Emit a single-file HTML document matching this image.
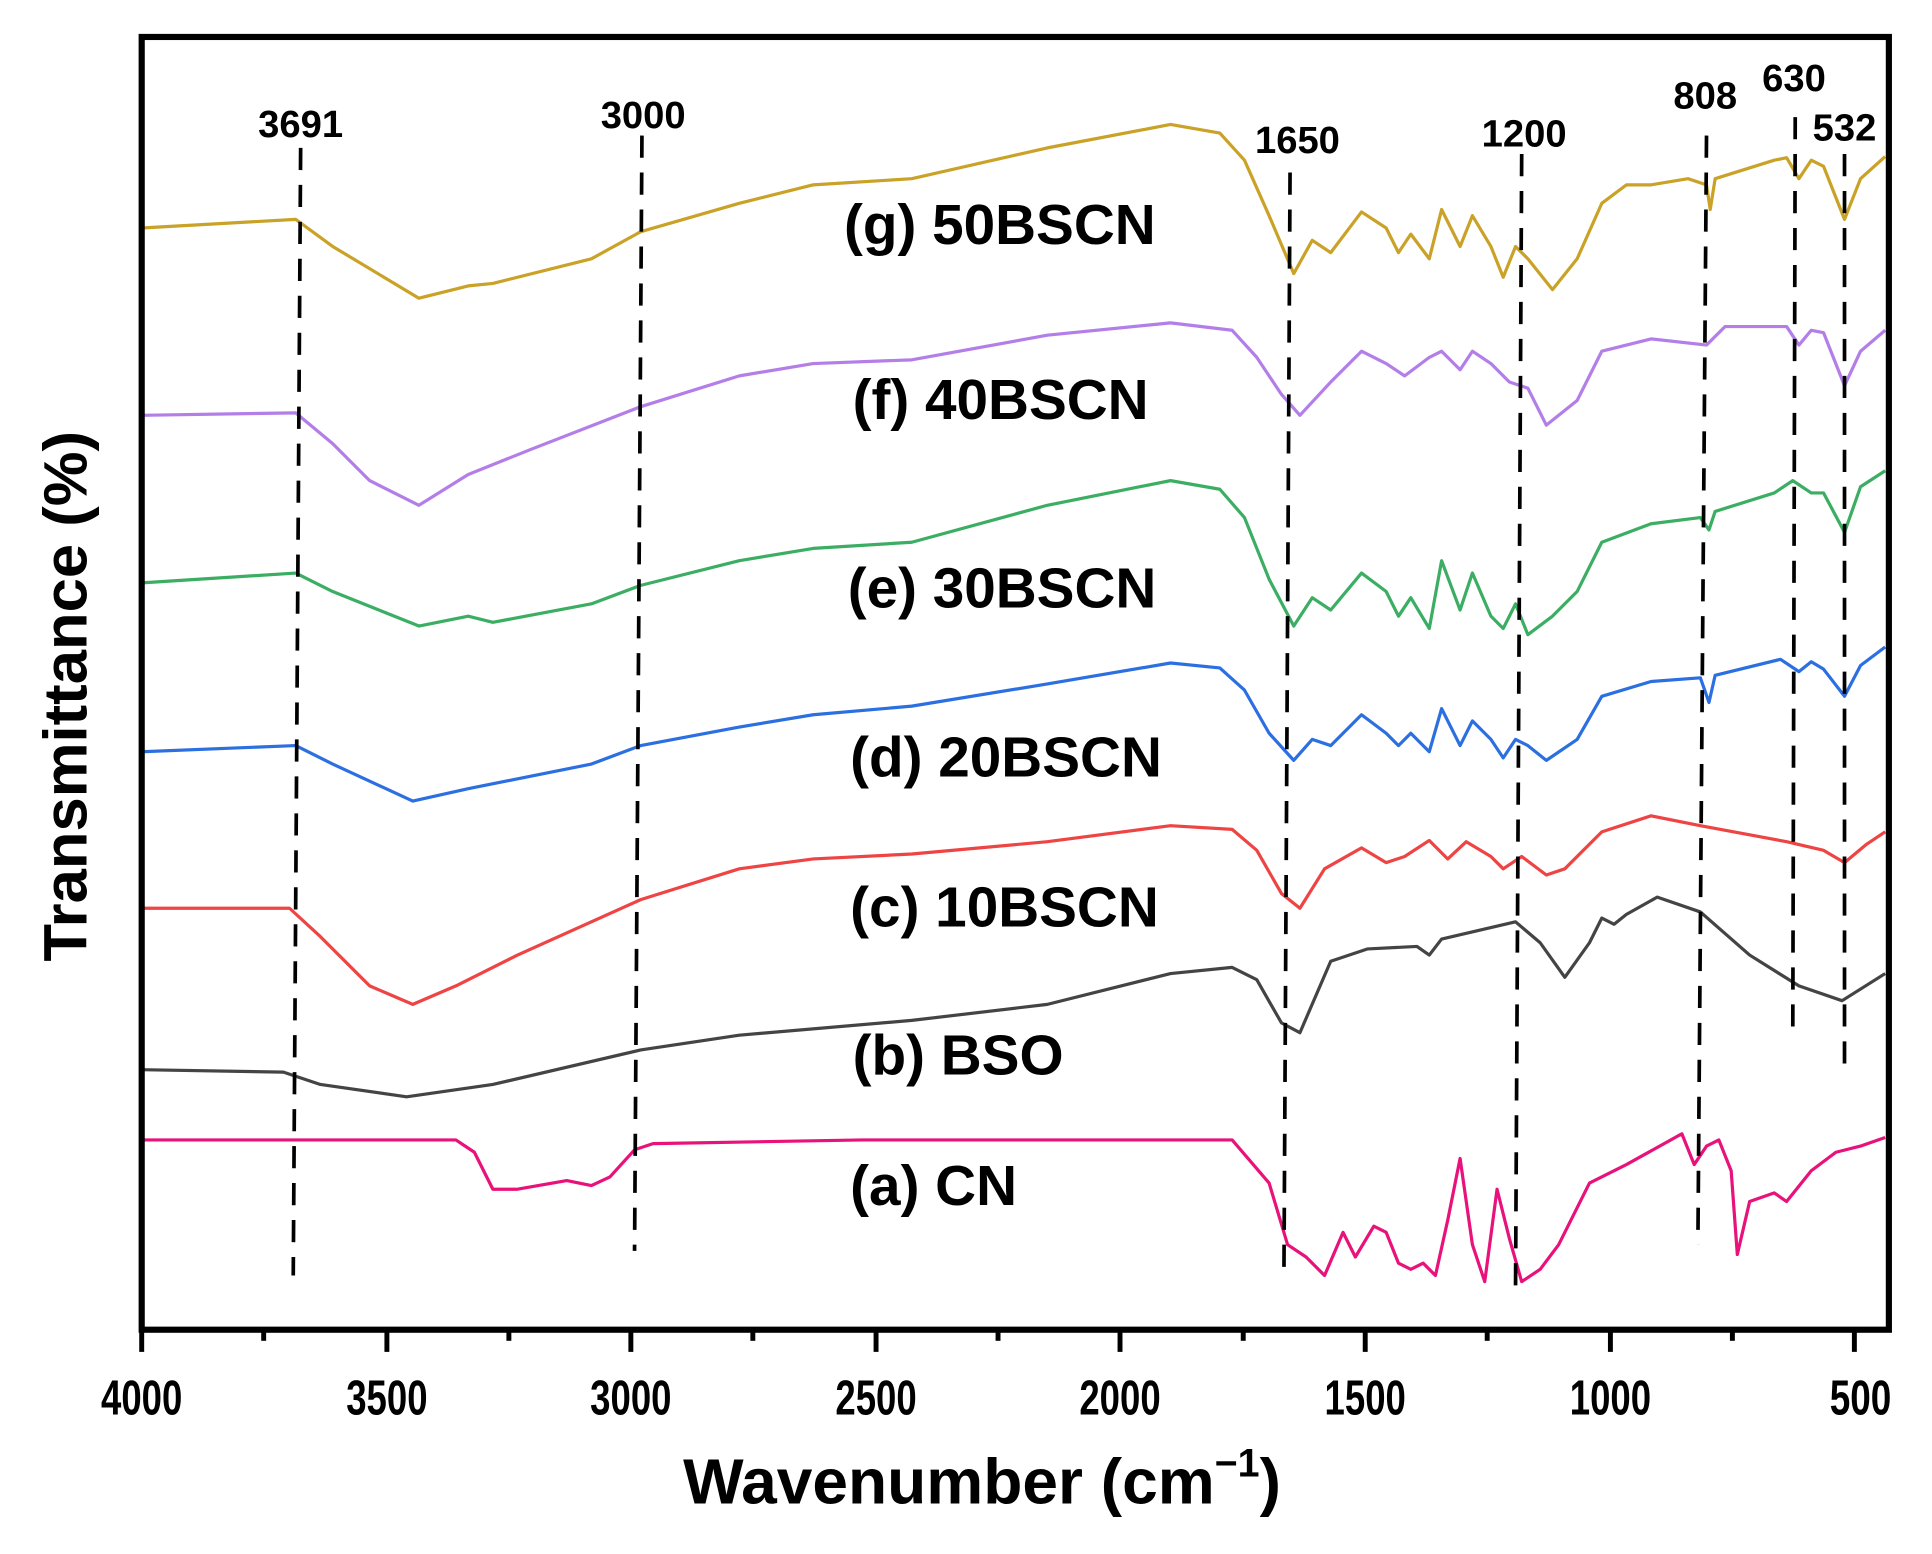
<!DOCTYPE html>
<html><head><meta charset="utf-8"><style>html,body{margin:0;padding:0;background:#fff}svg{display:block}</style></head>
<body>
<svg width="1932" height="1554" viewBox="0 0 1568 1261" preserveAspectRatio="none" xmlns="http://www.w3.org/2000/svg" font-family="'Liberation Sans Narrow','Liberation Sans',sans-serif" font-weight="bold">
<rect x="0" y="0" width="1568" height="1261" fill="#fff"/>
<g fill="none" stroke-width="2.6" stroke-linejoin="round">
<polyline stroke="#c9a227" points="115,185 240,178 270,200 340,242 380,232 400,230 480,210 520,188 600,165 660,150 740,145 850,120 950,101 990,108 1010,130 1030,175 1050,222 1065,195 1080,205 1105,172 1125,185 1135,205 1145,190 1160,210 1170,170 1185,200 1195,175 1210,200 1220,225 1230,200 1240,210 1260,235 1280,210 1300,165 1320,150 1340,150 1370,145 1385,150 1388,170 1392,145 1440,130 1450,128 1460,145 1470,130 1480,135 1497,178 1510,145 1530,127"/>
<polyline stroke="#b37ee8" points="115,337 240,335 270,360 300,390 340,410 380,385 430,365 520,330 600,305 660,295 740,292 850,272 950,262 1000,268 1020,290 1040,320 1055,337 1080,310 1105,285 1125,295 1140,305 1160,290 1170,285 1185,300 1195,285 1210,295 1225,310 1240,315 1255,345 1280,325 1300,285 1320,280 1340,275 1385,280 1400,265 1450,265 1460,280 1470,268 1480,270 1497,313 1510,285 1530,268"/>
<polyline stroke="#3cae63" points="115,473 240,465 270,480 340,508 380,500 400,505 480,490 520,475 600,455 660,445 740,440 850,410 950,390 990,397 1010,420 1030,470 1050,508 1065,485 1080,495 1105,465 1125,480 1135,500 1145,485 1160,510 1170,455 1185,495 1195,465 1210,500 1220,510 1230,490 1240,515 1260,500 1280,480 1300,440 1340,425 1380,420 1387,430 1392,415 1440,400 1455,390 1470,400 1480,400 1497,432 1510,395 1530,382"/>
<polyline stroke="#2b6fe0" points="115,610 240,605 270,620 335,650 380,640 480,620 520,605 600,590 660,580 740,573 850,555 950,538 990,542 1010,560 1030,595 1050,617 1065,600 1080,605 1105,580 1125,595 1135,605 1145,595 1160,610 1170,575 1185,605 1195,585 1210,600 1220,615 1230,600 1240,605 1255,617 1280,600 1300,565 1340,553 1380,550 1387,570 1392,548 1445,535 1460,545 1470,537 1480,543 1497,565 1510,540 1530,525"/>
<polyline stroke="#ee4444" points="115,737 235,737 260,760 300,800 335,815 370,800 420,775 520,730 600,705 660,697 740,693 850,683 950,670 1000,673 1020,690 1040,725 1055,737 1075,705 1105,688 1125,700 1140,695 1160,682 1175,697 1190,683 1210,695 1220,705 1235,695 1255,710 1270,705 1300,675 1340,662 1380,670 1450,683 1480,690 1497,700 1515,685 1530,675"/>
<polyline stroke="#444" points="115,868 230,870 260,880 330,890 400,880 520,852 600,840 740,828 850,815 950,790 1000,785 1020,795 1040,830 1055,838 1080,780 1110,770 1150,768 1160,775 1170,762 1230,748 1250,765 1270,793 1290,765 1300,745 1310,750 1320,742 1345,728 1380,740 1420,775 1460,800 1495,812 1530,790"/>
<polyline stroke="#e8127a" points="115,925 370,925 385,935 400,965 420,965 460,958 480,962 495,955 515,933 530,928 700,925 1000,925 1030,960 1045,1010 1060,1020 1075,1035 1090,1000 1100,1020 1115,995 1125,1000 1135,1025 1145,1030 1155,1025 1165,1035 1175,990 1185,940 1195,1010 1205,1040 1215,965 1225,1005 1235,1040 1250,1030 1265,1010 1290,960 1320,945 1365,920 1375,945 1385,930 1395,925 1405,950 1410,1018 1420,975 1440,968 1450,975 1470,950 1490,935 1510,930 1530,923"/>
</g>
<g stroke="#000" stroke-width="3" stroke-dasharray="18,12" fill="none">
<line x1="244" y1="120" x2="238" y2="1035"/>
<line x1="521" y1="110" x2="515" y2="1015"/>
<line x1="1047" y1="140" x2="1042" y2="1040"/>
<line x1="1235" y1="125" x2="1230" y2="1045"/>
<line x1="1385" y1="110" x2="1378" y2="1010"/>
<line x1="1457" y1="95" x2="1455" y2="843"/>
<line x1="1497" y1="125" x2="1497" y2="875"/>
</g>
<g font-size="31" text-anchor="middle" fill="#000">
<text x="244" y="111">3691</text>
<text x="522" y="104">3000</text>
<text x="1053" y="124">1650</text>
<text x="1237" y="119">1200</text>
<text x="1384" y="88">808</text>
<text x="1456" y="74">630</text>
<text x="1497" y="114">532</text>
</g>
<g font-size="46" fill="#000" font-family="'Liberation Sans',sans-serif">
<text x="685" y="198">(g) 50BSCN</text>
<text x="692" y="340">(f) 40BSCN</text>
<text x="688" y="493">(e) 30BSCN</text>
<text x="690" y="630">(d) 20BSCN</text>
<text x="690" y="752">(c) 10BSCN</text>
<text x="692" y="872">(b) BSO</text>
<text x="690" y="978">(a) CN</text>
</g>
<rect x="115" y="30" width="1418" height="1049" fill="none" stroke="#000" stroke-width="5"/>
<g stroke="#000" stroke-width="4">
<line x1="115" y1="1079" x2="115" y2="1097"/>
<line x1="214" y1="1079" x2="214" y2="1088"/>
<line x1="314" y1="1079" x2="314" y2="1097"/>
<line x1="413" y1="1079" x2="413" y2="1088"/>
<line x1="512" y1="1079" x2="512" y2="1097"/>
<line x1="611" y1="1079" x2="611" y2="1088"/>
<line x1="711" y1="1079" x2="711" y2="1097"/>
<line x1="810" y1="1079" x2="810" y2="1088"/>
<line x1="909" y1="1079" x2="909" y2="1097"/>
<line x1="1009" y1="1079" x2="1009" y2="1088"/>
<line x1="1108" y1="1079" x2="1108" y2="1097"/>
<line x1="1207" y1="1079" x2="1207" y2="1088"/>
<line x1="1307" y1="1079" x2="1307" y2="1097"/>
<line x1="1406" y1="1079" x2="1406" y2="1088"/>
<line x1="1505" y1="1079" x2="1505" y2="1097"/>
</g>
<g font-size="40" text-anchor="middle" fill="#000">
<text x="115" y="1148" textLength="66" lengthAdjust="spacingAndGlyphs">4000</text>
<text x="314" y="1148" textLength="66" lengthAdjust="spacingAndGlyphs">3500</text>
<text x="512" y="1148" textLength="66" lengthAdjust="spacingAndGlyphs">3000</text>
<text x="711" y="1148" textLength="66" lengthAdjust="spacingAndGlyphs">2500</text>
<text x="909" y="1148" textLength="66" lengthAdjust="spacingAndGlyphs">2000</text>
<text x="1108" y="1148" textLength="66" lengthAdjust="spacingAndGlyphs">1500</text>
<text x="1307" y="1148" textLength="66" lengthAdjust="spacingAndGlyphs">1000</text>
<text x="1510" y="1148" textLength="50" lengthAdjust="spacingAndGlyphs">500</text>
</g>
<text x="797" y="1220" font-size="52" text-anchor="middle" fill="#000" font-family="'Liberation Sans',sans-serif">Wavenumber (cm<tspan font-size="32" dy="-22">−1</tspan><tspan dy="22">)</tspan></text>
<text transform="translate(70,565) rotate(-90)" font-size="50" text-anchor="middle" fill="#000" font-family="'Liberation Sans',sans-serif">Transmittance (%)</text>
</svg>
</body></html>
